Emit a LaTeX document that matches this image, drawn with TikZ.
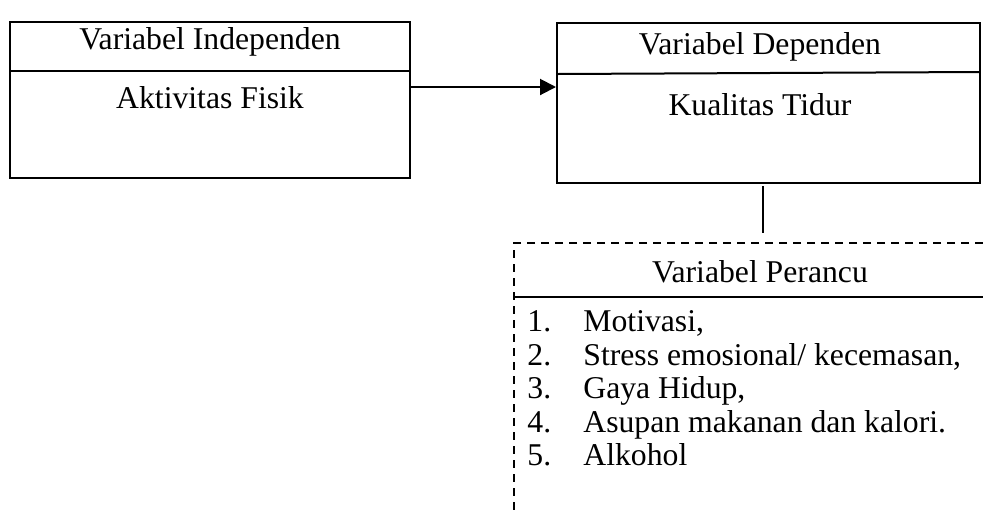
\documentclass[tikz,border=0pt]{standalone}
\usepackage{fontspec}
\setmainfont{Liberation Serif}
\usetikzlibrary{arrows.meta}
\begin{document}
\begin{tikzpicture}[x=0.5pt,y=-0.5pt,
  box/.style={draw,line width=1pt,rectangle,inner sep=0pt},
  txt/.style={anchor=base,inner sep=0pt,font=\fontsize{15.85}{19}\selectfont},
  lst/.style={anchor=base west,inner sep=0pt,font=\fontsize{15.85}{19}\selectfont},
  conn/.style={line width=1pt},
  dsh/.style={line width=0.75pt,dash pattern=on 4pt off 3pt}]
\useasboundingbox (0,0) rectangle (983,510);
% left box
\node[box,minimum width=200pt,minimum height=78pt] (ind) at (210,100) {};
\coordinate (indL) at (10,71);
\coordinate (indR) at (410,71);
\draw[conn] (indL) -- (indR);
\node[txt] (indT) at (210,49) {Variabel Independen};
\node[txt] (indV) at (210,108) {Aktivitas Fisik};
% right box
\node[box,minimum width=211.5pt,minimum height=80pt] (dep) at (768.5,103) {};
\coordinate (depL) at (557,74);
\coordinate (depR) at (980,72);
\draw[conn] (depL) -- (depR);
\node[txt] (depT) at (760,54) {Variabel Dependen};
\node[txt] (depV) at (760,115) {Kualitas Tidur};
% arrow
\coordinate (aS) at (410,87);
\coordinate (aE) at (556,87);
\draw[conn,-{Triangle[length=8pt,width=8pt]}] (aS) -- (aE);
% vertical connector
\coordinate (vS) at (763,186);
\coordinate (vE) at (763,233);
\draw[conn] (vS) -- (vE);
% dashed box
\coordinate (pTL) at (514,243);
\coordinate (pTR) at (983,243);
\coordinate (pBL) at (514,510);
\draw[dsh] (pTR) -- (pTL) -- (pBL);
\coordinate (pDL) at (514,297);
\coordinate (pDR) at (983,297);
\draw[conn] (pDL) -- (pDR);
\node[txt] (perT) at (760,282) {Variabel Perancu};
\node[lst] (n1) at (527,331) {1.};
\node[lst] (i1) at (583,331) {Motivasi,};
\node[lst] (n2) at (527,365) {2.};
\node[lst] (i2) at (583,365) {Stress emosional/ kecemasan,};
\node[lst] (n3) at (527,398) {3.};
\node[lst] (i3) at (583,398) {Gaya Hidup,};
\node[lst] (n4) at (527,432) {4.};
\node[lst] (i4) at (583,432) {Asupan makanan dan kalori.};
\node[lst] (n5) at (527,465) {5.};
\node[lst] (i5) at (583,465) {Alkohol};
\end{tikzpicture}
\end{document}
